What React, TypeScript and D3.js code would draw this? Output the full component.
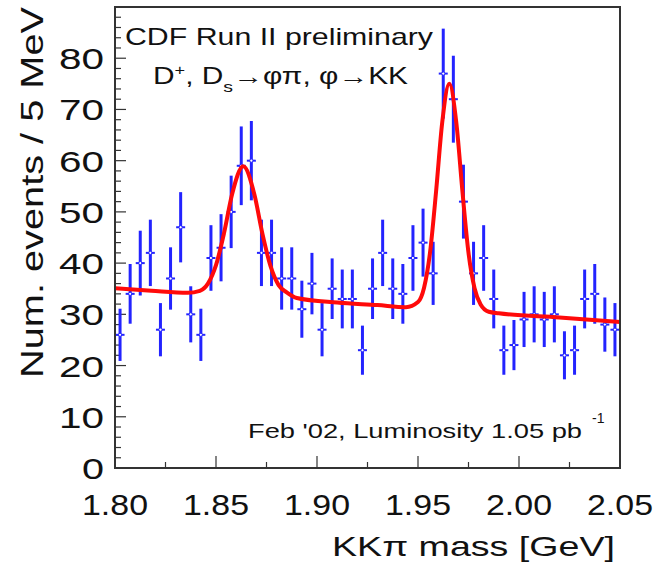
import React from 'react';
import * as d3 from 'd3';

// Bin centres (GeV), 5 MeV bins from 1.80 to 2.05
const binCenters = [
  1.8025, 1.8075, 1.8125, 1.8175, 1.8225, 1.8275, 1.8325, 1.8375, 1.8425, 1.8475,
  1.8525, 1.8575, 1.8625, 1.8675, 1.8725, 1.8775, 1.8825, 1.8875, 1.8925, 1.8975,
  1.9025, 1.9075, 1.9125, 1.9175, 1.9225, 1.9275, 1.9325, 1.9375, 1.9425, 1.9475,
  1.9525, 1.9575, 1.9625, 1.9675, 1.9725, 1.9775, 1.9825, 1.9875, 1.9925, 1.9975,
  2.0025, 2.0075, 2.0125, 2.0175, 2.0225, 2.0275, 2.0325, 2.0375, 2.0425, 2.0475,
];
// Number of events per bin
const counts = [
  26, 34, 40, 42, 27, 37, 47, 30, 26, 41,
  43, 50, 59, 60, 42, 42, 37, 37, 31, 36,
  27, 35, 33, 33, 23, 35, 42, 35, 34, 41,
  44, 38, 77, 72, 52, 38, 41, 33, 23, 24,
  29, 30, 29, 30, 22, 23, 33, 34, 28, 27,
];
// Fit curve
const fitMass = [
  1.8, 1.818, 1.836, 1.842, 1.846, 1.85, 1.854, 1.858, 1.8635, 1.869,
  1.873, 1.877, 1.881, 1.885, 1.89, 1.91, 1.93, 1.944, 1.95, 1.953,
  1.956, 1.959, 1.962, 1.9655, 1.969, 1.972, 1.975, 1.978, 1.981, 1.985,
  1.99, 2.02, 2.05,
];
const fitValue = [
  35.1, 34.6, 34.2, 34.6, 36.0, 39.6, 45.9, 53.5, 58.9, 53.4,
  45.7, 39.4, 35.7, 34.3, 33.2, 32.3, 31.8, 31.4, 32.4, 35.2,
  42.2, 54.2, 67.5, 75.0, 67.3, 54.0, 42.0, 35.1, 31.9, 30.5,
  30.2, 29.4, 28.5,
];
const yTicks = [0, 10, 20, 30, 40, 50, 60, 70, 80];
const yTickLabels = ['0', '10', '20', '30', '40', '50', '60', '70', '80'];
const xTicks = [1.8, 1.85, 1.9, 1.95, 2.0, 2.05];
const xTickLabels = ['1.80', '1.85', '1.90', '1.95', '2.00', '2.05'];

const BLUE = '#2323ff';
const RED = '#ff0a0a';
const FRAME = '#333';
const FONT = '"Liberation Sans", Arial, Helvetica, sans-serif';

export default function App() {
  const x = d3.scaleLinear().domain([1.8, 2.05]).range([115, 620]);
  const y = d3.scaleLinear().domain([0, 90]).range([468, 7]);

  const yMinor = d3.range(0, 90.1, 2);
  const xMinor = d3.range(1.8, 2.0501, 0.025);

  const fitLine = d3
    .line<number>()
    .x((_, i) => x(fitMass[i]))
    .y((d) => y(d))
    .curve(d3.curveMonotoneX);

  return (
    <svg
      width={660}
      height={571}
      style={{ position: 'absolute', left: 0, top: 0, background: '#fff' }}
      fontFamily={FONT}
    >
      <rect x={0} y={0} width={660} height={571} fill="#fff" />
      {/* minor ticks */}
      {yMinor.map((v) => (
        <line key={'ym' + v} x1={x(1.8)} x2={x(1.8) + (v % 10 === 0 ? 11 : 6)} y1={y(v)} y2={y(v)} stroke={FRAME} strokeWidth={1.2} />
      ))}
      {xMinor.map((v, i) => (
        <line key={'xm' + i} x1={x(v)} x2={x(v)} y1={y(0)} y2={y(0) - (i % 2 === 0 ? 12 : 6)} stroke={FRAME} strokeWidth={1.2} />
      ))}

      {/* data */}
      {counts.map((c, i) => {
        const cx = x(binCenters[i]);
        const e = Math.sqrt(c);
        return (
          <g key={'p' + i}>
            <line x1={cx} x2={cx} y1={y(c + e)} y2={y(Math.max(c - e, 0))} stroke={BLUE} strokeWidth={3} />
            <line x1={cx - 4.5} x2={cx + 4.5} y1={y(c)} y2={y(c)} stroke={BLUE} strokeWidth={2} />
            <circle cx={cx} cy={y(c)} r={1.6} fill="#fff" stroke={BLUE} strokeWidth={1} />
          </g>
        );
      })}

      {/* fit */}
      <path d={fitLine(fitValue) || ''} fill="none" stroke={RED} strokeWidth={4} strokeLinejoin="round" />

      {/* frame */}
      <rect x={x(1.8)} y={y(90)} width={x(2.05) - x(1.8)} height={y(0) - y(90)} fill="none" stroke={FRAME} strokeWidth={2} />

      {/* y tick labels */}
      {yTicks.map((v, i) => {
        const lab = yTickLabels[i];
        const w = lab.length === 1 ? 22 : 45;
        return (
          <text key={'yl' + v} x={104 - w} y={y(v) + 11} fontSize={30} textLength={w} lengthAdjust="spacingAndGlyphs" fill="#111">
            {lab}
          </text>
        );
      })}
      {/* x tick labels */}
      {xTicks.map((v, i) => (
        <text key={'xl' + i} x={x(v) - 33} y={515} fontSize={30} textLength={66} lengthAdjust="spacingAndGlyphs" fill="#111">
          {xTickLabels[i]}
        </text>
      ))}

      {/* axis titles */}
      <text
        transform="translate(43,378) rotate(-90)"
        x={0}
        y={0}
        fontSize={32}
        textLength={371}
        lengthAdjust="spacingAndGlyphs"
        fill="#111"
      >
        Num. events / 5 MeV
      </text>
      <text x={332} y={556} fontSize={28} textLength={283} lengthAdjust="spacingAndGlyphs" fill="#111">
        KKπ mass [GeV]
      </text>

      {/* annotations */}
      <text x={125} y={45} fontSize={24} textLength={308} lengthAdjust="spacingAndGlyphs" fill="#111">
        CDF Run II preliminary
      </text>
      <text x={153} y={84} fontSize={23} textLength={255} lengthAdjust="spacingAndGlyphs" fill="#111">
        D<tspan dy={-9} fontSize={14}>+</tspan>
        <tspan dy={9}>, D</tspan>
        <tspan dy={8} fontSize={15}>s</tspan>
        <tspan dy={-8}>→φπ, φ→KK</tspan>
      </text>
      <text x={248} y={438} fontSize={21} textLength={334} lengthAdjust="spacingAndGlyphs" fill="#111">
        Feb '02, Luminosity 1.05 pb
      </text>
      <text x={592} y={423} fontSize={14} fill="#111">
        -1
      </text>
    </svg>
  );
}
